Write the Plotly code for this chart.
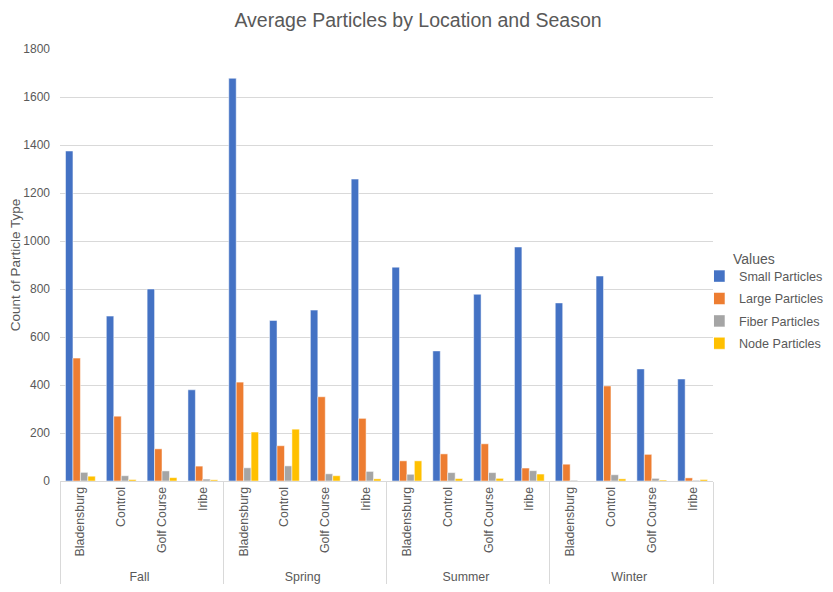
import plotly.graph_objects as go

seasons = ["Fall"] * 4 + ["Spring"] * 4 + ["Summer"] * 4 + ["Winter"] * 4
locations = ["Bladensburg", "Control", "Golf Course", "Iribe"] * 4

small = [1375, 687, 800, 380, 1678, 669, 712, 1258, 891, 542, 778, 975, 742, 854, 467, 425]
large = [512, 270, 134, 62, 412, 147, 351, 261, 84, 113, 155, 54, 70, 396, 111, 13]
fiber = [36, 22, 42, 8, 55, 63, 30, 40, 28, 35, 35, 43, 3, 26, 11, 3]
node = [20, 6, 14, 5, 204, 216, 22, 9, 84, 10, 11, 29, 0, 9, 4, 6]

series = [
    ("Small Particles", small, "#4472C4"),
    ("Large Particles", large, "#ED7D31"),
    ("Fiber Particles", fiber, "#A5A5A5"),
    ("Node Particles", node, "#FFC000"),
]

fig = go.Figure()
for name, vals, col in series:
    fig.add_trace(go.Bar(
        x=[seasons, locations], y=vals, name=name, legendgroup=name,
        marker=dict(color=col, line=dict(color="white", width=0.5)),
    ))

# page has an 8px body margin, so the figure is sized/offset to compensate
font_family = "Liberation Sans, Arial, sans-serif"
fig.update_layout(
    width=825, height=584,
    margin=dict(l=52, r=120, t=41, b=111, autoexpand=False),
    paper_bgcolor="white", plot_bgcolor="white",
    barmode="group", bargap=0.27, bargroupgap=0.0,
    font=dict(family=font_family, color="#595959", size=12),
    title=dict(text="Average Particles by Location and Season", x=0.497, xanchor="center",
               y=0.979, yanchor="middle", font=dict(size=19.5, color="#595959")),
    legend=dict(x=1.0015, y=0.396, xanchor="left", yanchor="middle",
                font=dict(size=12.6, color="#595959"), tracegroupgap=3,
                traceorder="grouped", itemwidth=30, indentation=-15,
                bgcolor="rgba(0,0,0,0)"),
    annotations=[dict(text="Values", xref="paper", yref="paper", x=1.0275, y=0.515,
                      xanchor="left", yanchor="middle", showarrow=False,
                      font=dict(size=14, color="#595959"))],
    yaxis=dict(range=[0, 1800], dtick=200, showgrid=True, gridcolor="#D9D9D9",
               zeroline=False, showline=False, ticks="", ticklabelstandoff=9,
               title=dict(text="Count of Particle Type", font=dict(size=13.5, color="#595959"), standoff=0),
               tickfont=dict(size=12, color="#595959")),
    xaxis=dict(type="multicategory", tickangle=-90, showline=True, linecolor="#D9D9D9",
               showdividers=True, dividercolor="#D9D9D9", dividerwidth=1,
               ticks="", tickfont=dict(size=12.4, color="#595959")),
)

fig.write_html("out.html")
